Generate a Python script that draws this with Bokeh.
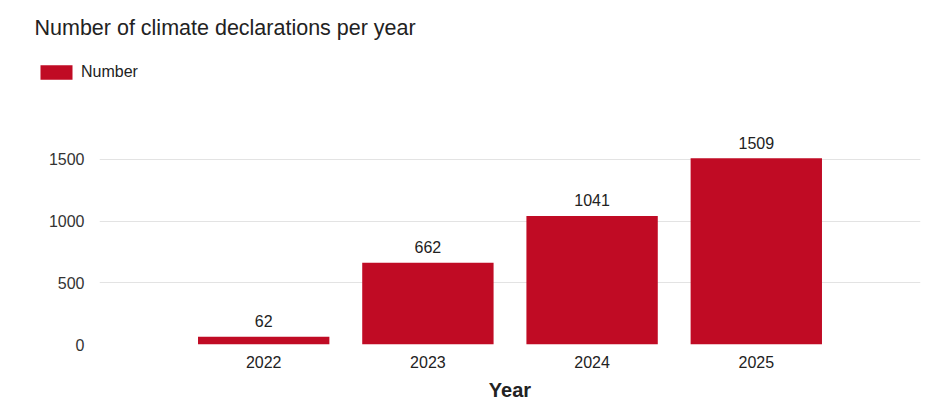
from bokeh.plotting import figure
from bokeh.layouts import column, row
from bokeh.models import ColumnDataSource, FactorRange, Range1d, FixedTicker
from bokeh.core.properties import value
from bokeh.embed import file_html
from bokeh.resources import INLINE

years = ["2022", "2023", "2024", "2025"]
counts = [62, 662, 1041, 1509]
y_ticks = [0, 500, 1000, 1500]
title_text = "Number of climate declarations per year"
series_name = "Number"
x_title = "Year"

FONT = "Liberation Sans"
BAR = "#C00B24"
TXT = "#222222"

src = ColumnDataSource(dict(year=years, count=counts, label=[str(c) for c in counts]))

# ---- header: title + legend (legend glyph comes from a bar renderer on the same data, kept out of view) ----
header = figure(
    width=936, height=97,
    x_range=FactorRange(factors=years), y_range=Range1d(3000, 4000),
    x_axis_type=None, y_axis_type=None,
    output_backend="svg", toolbar_location=None,
    min_border_left=0, min_border_right=0, min_border_top=48, min_border_bottom=0,
)
header.grid.visible = False
header.outline_line_color = None
header.title.text = title_text
header.title.text_font = FONT
header.title.text_font_size = "21.5px"
header.title.text_font_style = "normal"
header.title.text_color = TXT
header.title.align = "left"
header.title.offset = 34
header.title.standoff = 18
header.vbar(x="year", top="count", source=src, width=0.8,
            fill_color=BAR, line_color=None, legend_label=series_name)
lg = header.legend[0]
lg.location = (36, 16)
lg.orientation = "horizontal"
lg.glyph_width = 40
lg.glyph_height = 18
lg.label_text_font = FONT
lg.label_text_font_size = "16px"
lg.label_text_color = TXT
lg.label_standoff = 5
lg.padding = 0
lg.margin = 0
lg.spacing = 0
lg.border_line_color = None
lg.background_fill_alpha = 0

# ---- main chart ----
p = figure(
    width=936, height=306,
    x_range=FactorRange(factors=years, range_padding=0.5, range_padding_units="absolute"),
    y_range=Range1d(0, 2000),
    output_backend="svg", toolbar_location=None,
    min_border_left=99, min_border_right=16, min_border_top=0, min_border_bottom=57,
)
p.outline_line_color = None
p.background_fill_color = "white"
p.border_fill_color = "white"

p.vbar(x="year", top="count", width=0.8, source=src, fill_color=BAR, line_color=None)

p.text(x="year", y="count", text="label", source=src, y_offset=-9.5,
       text_align="center", text_baseline="bottom",
       text_font=value(FONT), text_font_size="16px", text_color=TXT)

p.xaxis.axis_line_color = None
p.xaxis.major_tick_line_color = None
p.xaxis.minor_tick_line_color = None
p.xaxis.major_label_text_font = FONT
p.xaxis.major_label_text_font_size = "16px"
p.xaxis.major_label_text_color = TXT
p.xaxis.major_label_standoff = 5
p.xaxis.axis_label = x_title
p.xaxis.axis_label_text_font = FONT
p.xaxis.axis_label_text_font_size = "20px"
p.xaxis.axis_label_text_font_style = "bold"
p.xaxis.axis_label_text_color = TXT
p.xaxis.axis_label_standoff = 8

p.yaxis.ticker = FixedTicker(ticks=y_ticks)
p.yaxis.axis_line_color = None
p.yaxis.major_tick_line_color = None
p.yaxis.minor_tick_line_color = None
p.yaxis.major_label_text_font = FONT
p.yaxis.major_label_text_font_size = "16px"
p.yaxis.major_label_text_color = "#333333"
p.yaxis.major_label_standoff = 9

p.xgrid.grid_line_color = None
p.ygrid.ticker = FixedTicker(ticks=y_ticks)
p.ygrid.grid_line_color = "#E3E3E3"
p.ygrid.grid_line_width = 1

layout = column(row(header), p, spacing=0)
open("out.html", "w").write(file_html(layout, INLINE))
